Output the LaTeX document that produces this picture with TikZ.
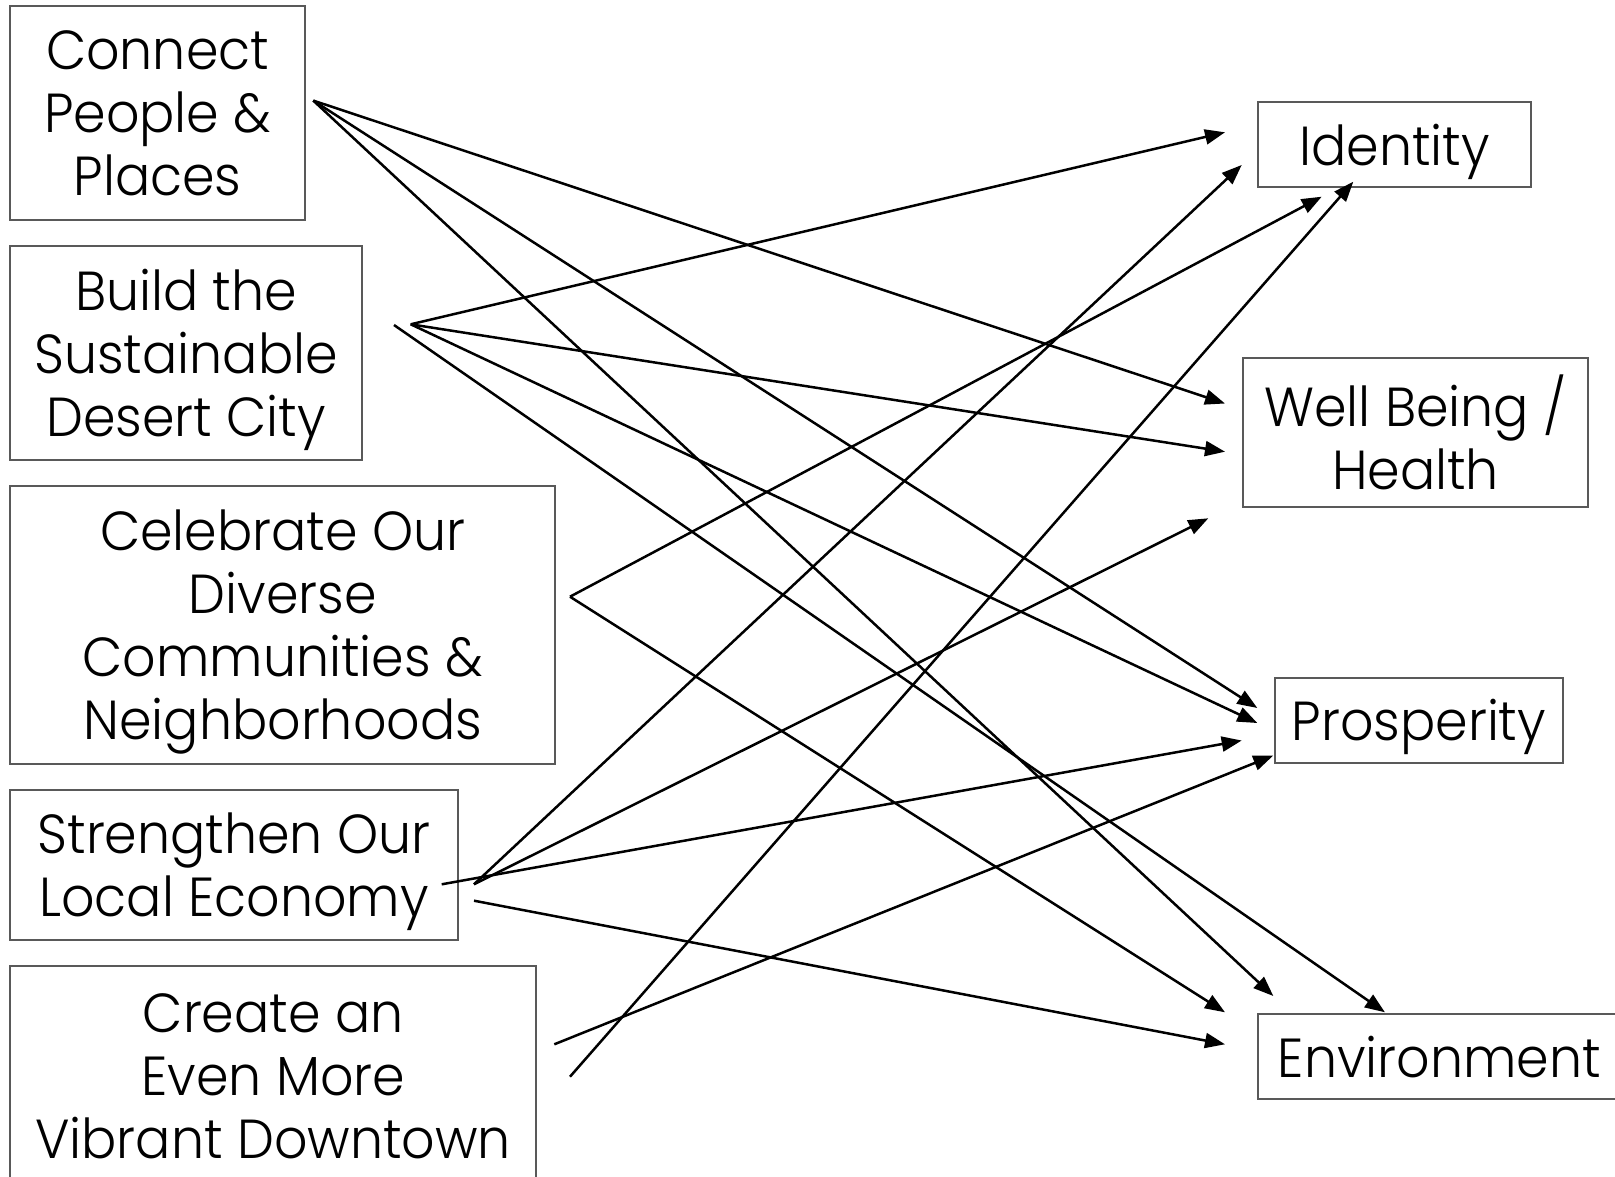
\documentclass[tikz,border=0pt]{standalone}
\usepackage{fontspec}
\setmainfont{Poppins Light}[FakeStretch=0.95]
\usetikzlibrary{arrows.meta}
\definecolor{boxgray}{HTML}{595959}
\begin{document}
\begin{tikzpicture}[x=1pt,y=-1pt,
  box/.style={draw=boxgray, line width=2pt, inner sep=0pt, align=center,
    font=\fontsize{55}{63}\selectfont, anchor=north west, text depth=0pt},
  link/.style={line width=2.5pt, -{Triangle[length=20pt,width=15pt]}}]
\clip (0,0) rectangle (1615,1177);
\fill[white] (0,0) rectangle (1615,1177);
% left boxes
\node[box, minimum width=294.7pt, minimum height=214.4pt] (connect) at (9.3,4.6) {Connect\\People \&\\Places};
\node[box, minimum width=351.4pt, minimum height=213.5pt] (build) at (9.3,245) {Build the\\Sustainable\\Desert City};
\node[box, minimum width=545pt, minimum height=277.6pt] (celebrate) at (9.3,485) {Celebrate Our\\Diverse\\Communities \&\\Neighborhoods};
\node[box, minimum width=447.4pt, minimum height=150pt] (strengthen) at (9.3,788.6) {Strengthen Our\\Local Economy};
\node[box, minimum width=525.7pt, minimum height=220pt] (create) at (9.3,965) {Create an\\Even More\\Vibrant Downtown};
% right boxes
\node[box, minimum width=272.7pt, minimum height=85.3pt] (identity) at (1257.3,100.7) {Identity};
\node[box, minimum width=345.6pt, minimum height=149.3pt] (wellbeing) at (1241.7,356.7) {Well Being /\\Health};
\node[box, minimum width=287.8pt, minimum height=85pt] (prosperity) at (1274,676.8) {Prosperity};
\node[box, minimum width=362pt, minimum height=85.8pt] (environment) at (1257.3,1012.5) {Environment};
% start points
\coordinate (cs) at (313.3,100.6);
\coordinate (bs) at (410.7,324.3);
\coordinate (bs2) at (394,325);
\coordinate (cels) at (570,596.7);
\coordinate (ss1) at (474,884.3);
\coordinate (ss2) at (441.7,884.3);
\coordinate (ss3) at (474,900.7);
\coordinate (cr1) at (554.3,1044.3);
\coordinate (cr2) at (570,1076.7);
% end points
\coordinate (id1) at (1225,132.3);
\coordinate (id2) at (1241.7,165);
\coordinate (id3) at (1321.7,196.7);
\coordinate (id4) at (1353.3,181.7);
\coordinate (wb1) at (1225,403.5);
\coordinate (wb2) at (1225,451.7);
\coordinate (wb3) at (1208.3,518.3);
\coordinate (pr1) at (1257.3,708);
\coordinate (pr2) at (1257.3,723);
\coordinate (pr3) at (1241.7,740.5);
\coordinate (pr4) at (1273.3,755.5);
\coordinate (en1) at (1273.3,996);
\coordinate (en2) at (1225,1012.3);
\coordinate (en3) at (1385,1012.3);
\coordinate (en4) at (1225,1044.3);
% connectors
\draw[link] (cs) -- (wb1);
\draw[link] (cs) -- (pr1);
\draw[link] (cs) -- (en1);
\draw[link] (bs) -- (id1);
\draw[link] (bs) -- (wb2);
\draw[link] (bs) -- (pr2);
\draw[link] (bs2) -- (en3);
\draw[link] (cels) -- (id3);
\draw[link] (cels) -- (en2);
\draw[link] (ss1) -- (id2);
\draw[link] (ss1) -- (wb3);
\draw[link] (ss2) -- (pr3);
\draw[link] (ss3) -- (en4);
\draw[link] (cr1) -- (pr4);
\draw[link] (cr2) -- (id4);
\end{tikzpicture}
\end{document}
